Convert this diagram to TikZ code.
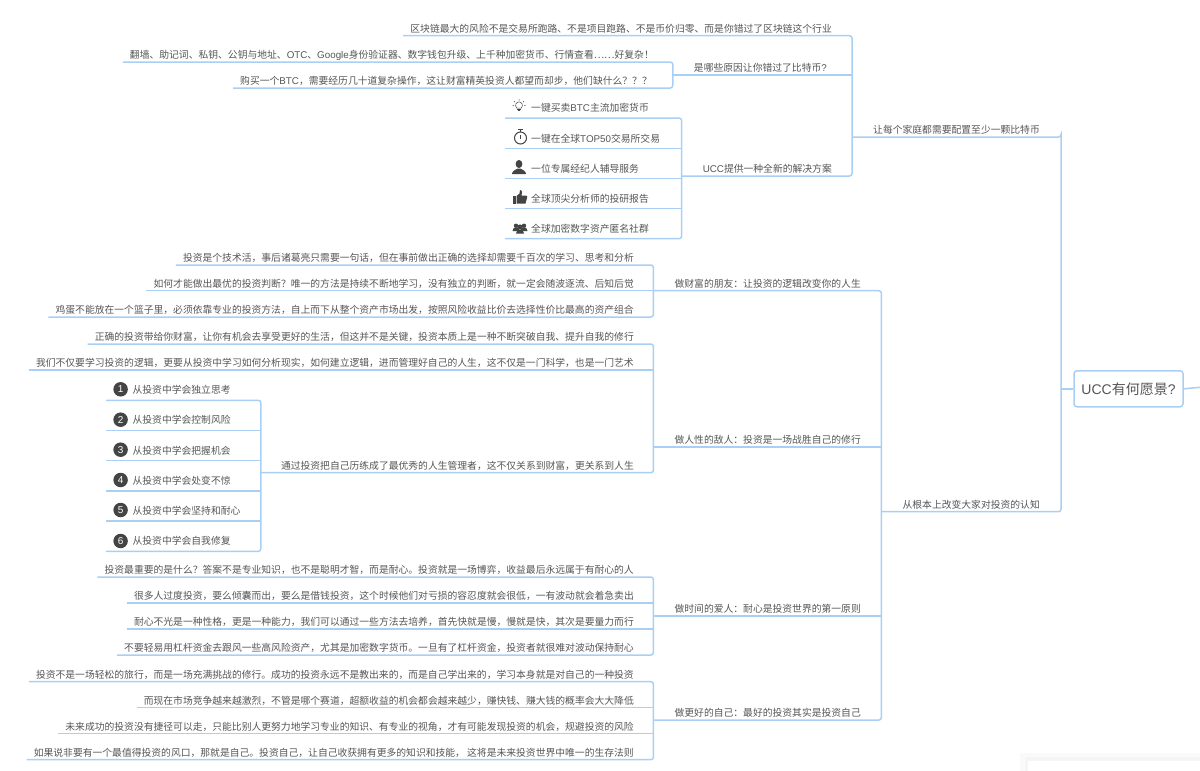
\documentclass[tikz,border=0pt]{standalone}
\usepackage{fontspec}
\setmainfont{Noto Sans CJK SC}
\newfontfamily\latfont{Liberation Sans}
\newcommand{\lat}[1]{{\latfont #1}}
\definecolor{linkblue}{HTML}{A9CFF5}
\definecolor{txtgray}{HTML}{555555}
\definecolor{iconfill}{HTML}{444444}
\tikzset{
  leaf/.style={anchor=south east,inner xsep=7pt,inner ysep=1.5pt,text height=8pt,text depth=2pt,text=txtgray,font=\fontsize{9.8}{12}\selectfont},
  branch/.style={leaf,inner xsep=21pt},
  tag/.style={leaf,anchor=south west,inner xsep=0pt,inner ysep=4.5pt},
  badge/.style={circle,fill=iconfill,text=white,inner sep=0pt,minimum size=14.5pt,font=\fontsize{10}{10}\latfont},
  rootbox/.style={draw=linkblue,line width=1.5pt,rounded corners=3pt,minimum width=109pt,minimum height=36pt,inner sep=0pt,text=txtgray,font=\fontsize{14}{18}\selectfont},
  link/.style={draw=linkblue,line width=1.5pt,rounded corners=2.5pt},
  bulbicon/.pic={
    \draw[iconfill,line width=.5pt] (-2.2,2.4) .. controls (-5,-.5) and (-2.5,-3.8) .. (0,-3.8) .. controls (2.5,-3.8) and (5,-.5) .. (2.2,2.4) -- cycle;
    \draw[iconfill,line width=.5pt] (-1.8,3.8) -- (1.8,3.8) (-1,5) -- (1,5);
    \draw[iconfill,line width=.5pt] (0,-6.5) -- (0,-5) (-5,-4.5) -- (-4,-3.5) (5,-4.5) -- (4,-3.5) (-6.5,0) -- (-5,0) (6.5,0) -- (5,0);},
  clockicon/.pic={
    \draw[iconfill,line width=1pt] (0,0) circle (6);
    \draw[iconfill,line width=1pt] (-2.5,-8.5) -- (2.5,-8.5) (0,-8.5) -- (0,-6);
    \draw[iconfill,line width=1pt] (0,-3.5) -- (0,1);},
  personicon/.pic={
    \fill[iconfill] (0,-3) ellipse (3.4 and 4);
    \fill[iconfill] (-7,7) .. controls (-7,3.5) and (-3,3) .. (-1.5,1.5) -- (1.5,1.5) .. controls (3,3) and (7,3.5) .. (7,7) -- cycle;},
  thumbicon/.pic={
    \fill[iconfill] (-7,-1) rectangle (-4.5,6.5);
    \fill[iconfill] (-3.5,-1) -- (-.5,-3.5) -- (0,-7) .. controls (2.5,-7) and (2.5,-3.5) .. (1.5,-1.5) -- (6,-1.5) .. controls (7.5,-1.5) and (7.5,0) .. (7,1) -- (5.5,6.5) -- (-3.5,6.5) -- cycle;},
  groupicon/.pic={
    \fill[iconfill] (-4,-2.2) circle (2.2) (4,-2.2) circle (2.2) (0,-1) circle (2.6);
    \fill[iconfill] (-7.5,3) .. controls (-7.5,0) and (-5.5,-.5) .. (-4,-.5) .. controls (-2.5,-.5) and (-.5,0) .. (-.5,3) -- cycle;
    \fill[iconfill] (.5,3) .. controls (.5,0) and (2.5,-.5) .. (4,-.5) .. controls (5.5,-.5) and (7.5,0) .. (7.5,3) -- cycle;
    \fill[iconfill] (-4,5.5) .. controls (-4,2.5) and (-2,1.5) .. (0,1.5) .. controls (2,1.5) and (4,2.5) .. (4,5.5) -- cycle;},
}
\begin{document}
\begin{tikzpicture}[x=1pt,y=-1pt]
     \useasboundingbox (0,0) rectangle (1200,771);

     %Panel in the corner
     \fill[black!2] (1020,753) rectangle (1200,771);
     \fill[black!4] (1025,757) rectangle (1200,771);
     \fill[white] (1028,761) rectangle (1200,771);

     %Root
     \node[rootbox] (ucc) at (1128.5,388.8) {\lat{UCC}有何愿景\lat{?}};
     \coordinate (offpage) at (1200,387.3);
     \node[branch] (family) at (1061,137) {让每个家庭都需要配置至少一颗比特币};
     \node[branch] (belief) at (1061,511.7) {从根本上改变大家对投资的认知};
     \draw[link] (family.south west) -| (family.south east) |- (belief.south west);
     \draw[link] (ucc.west) -- (ucc.west -| family.south east);
     \draw[link] (ucc.east) -- (offpage);

     %Family branch
     \node[branch] (reason) at (848,75) {是哪些原因让你错过了比特币\lat{?}};
     \node[branch] (offer) at (853,176) {\lat{UCC}提供一种全新的解决方案};
     \node[leaf] (miss) at (839,35.7) {区块链最大的风险不是交易所跑路、不是项目跑路、不是币价归零、而是你错过了区块链这个行业};
     \draw[link] (miss.south west) -| (family.south west) |- (offer.south west);
     \draw[link] (reason.south west) -- (reason.south west -| family.south west);

     \node[leaf] (wall) at (661,62) {翻墙、助记词、私钥、公钥与地址、\lat{OTC}、\lat{Google}身份验证器、数字钱包升级、上千种加密货币、行情查看……好复杂！};
     \node[leaf] (buy) at (659,88) {购买一个\lat{BTC}，需要经历几十道复杂操作，这让财富精英投资人都望而却步，他们缺什么？？？};
     \draw[link] (wall.south west) -| (reason.south west) |- (buy.south west);

     %Offer items
     \node[tag] (trade) at (505,118) {\hspace*{26pt}一键买卖\lat{BTC}主流加密货币};
     \node[tag] (top) at (505,148.7) {\hspace*{26pt}一键在全球\lat{TOP50}交易所交易};
     \node[tag] (agent) at (505,178.7) {\hspace*{26pt}一位专属经纪人辅导服务};
     \node[tag] (report) at (505,208.7) {\hspace*{26pt}全球顶尖分析师的投研报告};
     \node[tag] (club) at (505,238.7) {\hspace*{26pt}全球加密数字资产匿名社群};
     \pic at (519,105.7) {bulbicon};
     \pic at (520.5,138) {clockicon};
     \pic at (519,167) {personicon};
     \pic at (520,197) {thumbicon};
     \pic at (520,228) {groupicon};
     \draw[link] (trade.south west) -| (offer.south west) |- (club.south west);
     \draw[link] (top.south west) -- (top.south west -| offer.south west);
     \draw[link] (agent.south west) -- (agent.south west -| offer.south west);
     \draw[link] (report.south west) -- (report.south west -| offer.south west);

     %Belief branch
     \node[branch] (friend) at (882,290.7) {做财富的朋友：让投资的逻辑改变你的人生};
     \node[branch] (enemy) at (882,447) {做人性的敌人：投资是一场战胜自己的修行};
     \node[branch] (lover) at (882,616) {做时间的爱人：耐心是投资世界的第一原则};
     \node[branch] (self) at (882,720) {做更好的自己：最好的投资其实是投资自己};
     \draw[link] (friend.south west) -| (belief.south west) |- (self.south west);
     \draw[link] (enemy.south west) -- (enemy.south west -| belief.south west);
     \draw[link] (lover.south west) -- (lover.south west -| belief.south west);

     %Friend
     \node[leaf] (f1) at (641,265) {投资是个技术活，事后诸葛亮只需要一句话，但在事前做出正确的选择却需要千百次的学习、思考和分析};
     \node[leaf] (f2) at (641,290.7) {如何才能做出最优的投资判断？唯一的方法是持续不断地学习，没有独立的判断，就一定会随波逐流、后知后觉};
     \node[leaf] (f3) at (641,317) {鸡蛋不能放在一个篮子里，必须依靠专业的投资方法，自上而下从整个资产市场出发，按照风险收益比价去选择性价比最高的资产组合};
     \draw[link] (f1.south west) -| (friend.south west) |- (f3.south west);
     \draw[link] (f2.south west) -- (f2.south west -| friend.south west);

     %Enemy
     \node[leaf] (e1) at (641,344) {正确的投资带给你财富，让你有机会去享受更好的生活，但这并不是关键，投资本质上是一种不断突破自我、提升自我的修行};
     \node[leaf] (e2) at (641,370) {我们不仅要学习投资的逻辑，更要从投资中学习如何分析现实，如何建立逻辑，进而管理好自己的人生，这不仅是一门科学，也是一门艺术};
     \node[branch,inner xsep=20pt] (manager) at (654,472.7) {通过投资把自己历练成了最优秀的人生管理者，这不仅关系到财富，更关系到人生};
     \draw[link] (e1.south west) -| (enemy.south west) |- (manager.south west);
     \draw[link] (e2.south west) -- (e2.south west -| enemy.south west);

     %Lessons
     \node[tag] (l1) at (106,400.3) {\hspace*{26.4pt}从投资中学会独立思考};
     \node[tag] (l2) at (106,430.3) {\hspace*{26.4pt}从投资中学会控制风险};
     \node[tag] (l3) at (106,460.7) {\hspace*{26.4pt}从投资中学会把握机会};
     \node[tag] (l4) at (106,491) {\hspace*{26.4pt}从投资中学会处变不惊};
     \node[tag] (l5) at (106,521) {\hspace*{26.4pt}从投资中学会坚持和耐心};
     \node[tag] (l6) at (106,551.3) {\hspace*{26.4pt}从投资中学会自我修复};
     \node[badge] (b1) at (120.6,389.3) {1};
     \node[badge] (b2) at (120.6,419.7) {2};
     \node[badge] (b3) at (120.6,449.7) {3};
     \node[badge] (b4) at (120.6,480) {4};
     \node[badge] (b5) at (120.6,510) {5};
     \node[badge] (b6) at (120.6,541) {6};
     \draw[link] (l1.south west) -| (manager.south west) |- (l6.south west);
     \draw[link] (l2.south west) -- (l2.south west -| manager.south west);
     \draw[link] (l3.south west) -- (l3.south west -| manager.south west);
     \draw[link] (l4.south west) -- (l4.south west -| manager.south west);
     \draw[link] (l5.south west) -- (l5.south west -| manager.south west);

     %Lover
     \node[leaf] (t1) at (641,577) {投资最重要的是什么？答案不是专业知识，也不是聪明才智，而是耐心。投资就是一场博弈，收益最后永远属于有耐心的人};
     \node[leaf] (t2) at (641,603) {很多人过度投资，要么倾囊而出，要么是借钱投资，这个时候他们对亏损的容忍度就会很低，一有波动就会着急卖出};
     \node[leaf] (t3) at (641,629) {耐心不光是一种性格，更是一种能力，我们可以通过一些方法去培养，首先快就是慢，慢就是快，其次是要量力而行};
     \node[leaf] (t4) at (641,655) {不要轻易用杠杆资金去跟风一些高风险资产，尤其是加密数字货币。一旦有了杠杆资金，投资者就很难对波动保持耐心};
     \draw[link] (t1.south west) -| (lover.south west) |- (t4.south west);
     \draw[link] (t2.south west) -- (t2.south west -| lover.south west);
     \draw[link] (t3.south west) -- (t3.south west -| lover.south west);

     %Self
     \node[leaf] (s1) at (641,681.7) {投资不是一场轻松的旅行，而是一场充满挑战的修行。成功的投资永远不是教出来的，而是自己学出来的，学习本身就是对自己的一种投资};
     \node[leaf] (s2) at (641,707.7) {而现在市场竞争越来越激烈，不管是哪个赛道，超额收益的机会都会越来越少，赚快钱、赚大钱的概率会大大降低};
     \node[leaf] (s3) at (641,733.7) {未来成功的投资没有捷径可以走，只能比别人更努力地学习专业的知识、有专业的视角，才有可能发现投资的机会，规避投资的风险};
     \node[leaf] (s4) at (641,759.7) {如果说非要有一个最值得投资的风口，那就是自己。投资自己，让自己收获拥有更多的知识和技能， 这将是未来投资世界中唯一的生存法则};
     \draw[link] (s1.south west) -| (self.south west) |- (s4.south west);
     \draw[link] (s2.south west) -- (s2.south west -| self.south west);
     \draw[link] (s3.south west) -- (s3.south west -| self.south west);

\end{tikzpicture}
\end{document}
